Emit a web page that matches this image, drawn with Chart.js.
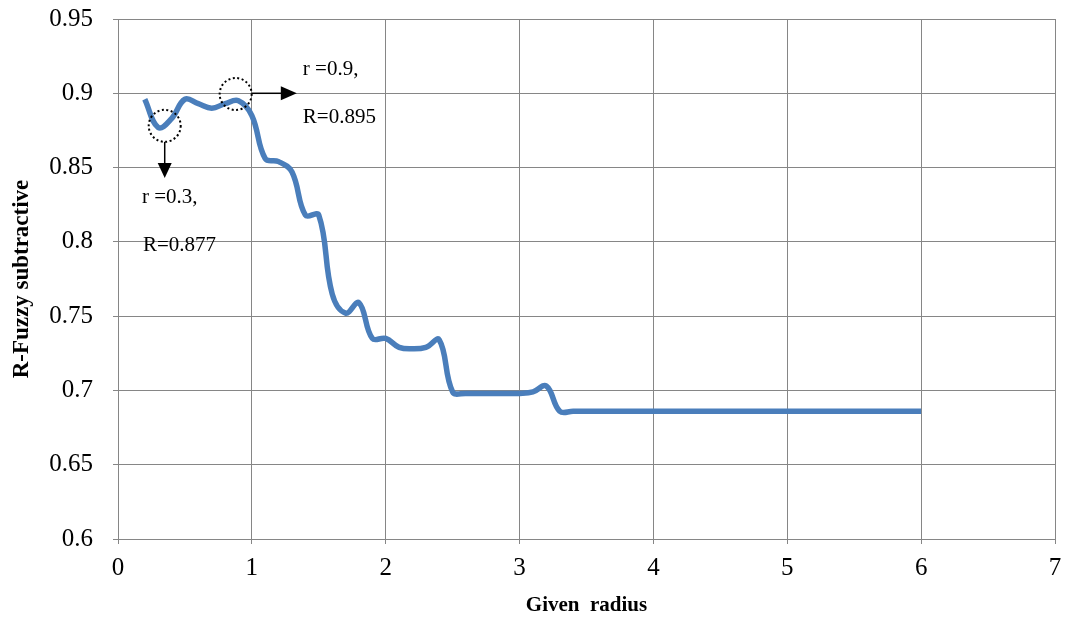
<!DOCTYPE html>
<html>
<head>
<meta charset="utf-8">
<script src="https://cdn.jsdelivr.net/npm/chart.js@4.4.1/dist/chart.umd.min.js"></script>
<style>
  html, body { margin: 0; padding: 0; background: #fff; }
  #wrap { width: 1071px; height: 619px; }
</style>
</head>
<body>
<div id="wrap"><canvas id="rchart" width="1071" height="619"></canvas></div>
<script>
// given radius (x) and R-Fuzzy subtractive (y)
var radius = [
  0.2, 0.3, 0.4, 0.5, 0.6, 0.7, 0.8, 0.9, 1.0, 1.1,
  1.2, 1.3, 1.4, 1.5, 1.6, 1.7, 1.8, 1.9, 2.0, 2.1,
  2.2, 2.3, 2.4, 2.5, 2.6, 2.7, 2.8, 2.9, 3.0, 3.1,
  3.2, 3.3, 3.4, 3.5, 3.6, 3.7, 3.8, 3.9, 4.0, 4.1,
  4.2, 4.3, 4.4, 4.5, 4.6, 4.7, 4.8, 4.9, 5.0, 5.1,
  5.2, 5.3, 5.4, 5.5, 5.6, 5.7, 5.8, 5.9, 6.0
];
var rFuzzy = [
  0.896, 0.877, 0.883, 0.896, 0.893, 0.890, 0.893, 0.895, 0.885, 0.856,
  0.854, 0.847, 0.818, 0.818, 0.765, 0.752, 0.759, 0.735, 0.735, 0.729,
  0.728, 0.729, 0.734, 0.699, 0.698, 0.698, 0.698, 0.698, 0.698, 0.699,
  0.703, 0.686, 0.686, 0.686, 0.686, 0.686, 0.686, 0.686, 0.686, 0.686,
  0.686, 0.686, 0.686, 0.686, 0.686, 0.686, 0.686, 0.686, 0.686, 0.686,
  0.686, 0.686, 0.686, 0.686, 0.686, 0.686, 0.686, 0.686, 0.686
];
var xTicks = [0, 1, 2, 3, 4, 5, 6, 7];
var yTicks = [0.6, 0.65, 0.7, 0.75, 0.8, 0.85, 0.9, 0.95];

// callouts: circled points and their labels
var callouts = [
  { cx: 0.349, cy: 0.8781, dir: "down", to: 0.843,
    lines: [["r =0.3,", 0.179, 0.8302], ["R=0.877", 0.1866, 0.7973]] },
  { cx: 0.879, cy: 0.8995, dir: "right", to: 1.336,
    lines: [["r =0.9,", 1.381, 0.9157], ["R=0.895", 1.381, 0.884]] }
];

var serif = '"Liberation Serif", "Times New Roman", serif';
Chart.defaults.font.family = serif;
Chart.defaults.color = "#000";

var calloutPlugin = {
  id: "callouts",
  afterDatasetsDraw: function (chart) {
    var ctx = chart.ctx, sx = chart.scales.x, sy = chart.scales.y, rad = 16;
    ctx.save();
    callouts.forEach(function (c) {
      var px = sx.getPixelForValue(c.cx), py = sy.getPixelForValue(c.cy);
      ctx.setLineDash([2, 2.5]);
      ctx.lineWidth = 2;
      ctx.strokeStyle = "#000";
      ctx.beginPath();
      ctx.arc(px, py, rad, 0, Math.PI * 2);
      ctx.stroke();
      ctx.setLineDash([]);
      ctx.lineWidth = 1.5;
      ctx.fillStyle = "#000";
      ctx.beginPath();
      if (c.dir === "down") {
        var ty = sy.getPixelForValue(c.to);
        ctx.moveTo(px, py + rad);
        ctx.lineTo(px, ty - 14);
        ctx.stroke();
        ctx.beginPath();
        ctx.moveTo(px - 7, ty - 15);
        ctx.lineTo(px + 7, ty - 15);
        ctx.lineTo(px, ty);
      } else {
        var tx = sx.getPixelForValue(c.to), ay = sy.getPixelForValue(0.9);
        ctx.moveTo(px + rad, ay);
        ctx.lineTo(tx - 15, ay);
        ctx.stroke();
        ctx.beginPath();
        ctx.moveTo(tx - 16, ay - 7);
        ctx.lineTo(tx - 16, ay + 7);
        ctx.lineTo(tx, ay);
      }
      ctx.closePath();
      ctx.fill();
      ctx.font = "21px " + serif;
      ctx.textAlign = "left";
      ctx.textBaseline = "middle";
      c.lines.forEach(function (l) {
        ctx.fillText(l[0], sx.getPixelForValue(l[1]), sy.getPixelForValue(l[2]));
      });
    });
    ctx.restore();
  }
};

var points = radius.map(function (r, i) { return { x: r, y: rFuzzy[i] }; });

new Chart(document.getElementById("rchart").getContext("2d"), {
  type: "line",
  data: {
    datasets: [{
      label: "R",
      data: points,
      borderColor: "#4a7ebb",
      borderWidth: 5.5,
      pointRadius: 0,
      fill: false,
      tension: 0.4
    }]
  },
  options: {
    responsive: false,
    devicePixelRatio: 1,
    animation: false,
    layout: { padding: { left: 0, top: 19, right: 16, bottom: 0 } },
    plugins: { legend: { display: false }, tooltip: { enabled: false } },
    scales: {
      x: {
        type: "linear",
        min: 0, max: 7,
        afterBuildTicks: function (s) { s.ticks = xTicks.map(function (v) { return { value: v }; }); },
        afterFit: function (s) { s.height = 80; },
        grid: { color: "#868686", lineWidth: 1, tickLength: 5 },
        border: { color: "#868686" },
        ticks: { font: { size: 25 }, padding: 9, maxRotation: 0 },
        title: { display: true, text: "Given  radius", font: { size: 21, weight: "bold" }, padding: { top: 0, bottom: 1 } }
      },
      y: {
        min: 0.6, max: 0.95,
        afterBuildTicks: function (s) { s.ticks = yTicks.map(function (v) { return { value: v }; }); },
        afterFit: function (s) { s.width = 118; s.paddingTop = 0; s.paddingBottom = 0; },
        grid: { color: "#868686", lineWidth: 1, tickLength: 5 },
        border: { color: "#868686" },
        ticks: { font: { size: 25 }, padding: 20, callback: function (v) { return String(+v.toFixed(2)); } },
        title: { display: true, text: "R-Fuzzy subtractive", font: { size: 23, weight: "bold" }, padding: { top: 8, bottom: 0 } }
      }
    }
  },
  plugins: [calloutPlugin]
});
</script>
</body>
</html>
